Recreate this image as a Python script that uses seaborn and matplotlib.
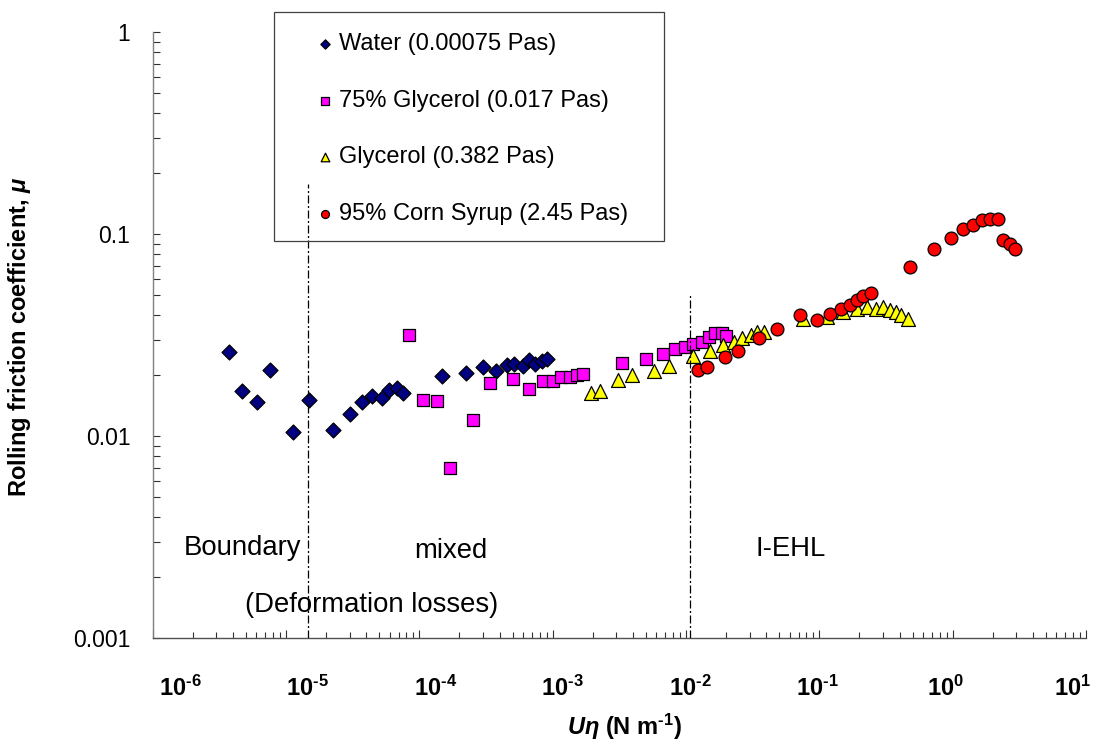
import numpy as np
import pandas as pd
import matplotlib
matplotlib.use("Agg")
import matplotlib.pyplot as plt
from matplotlib.patches import Rectangle
from matplotlib.ticker import FixedLocator, FixedFormatter, LogLocator, NullFormatter, NullLocator
import seaborn as sns

# ---- data: rolling friction coefficient vs. U*eta for four lubricants ----
water_x = [3.75e-6, 4.65e-6, 6.03e-6, 7.57e-6, 1.13e-5, 1.49e-5, 2.26e-5, 3.03e-5, 3.71e-5,
           4.43e-5, 5.21e-5, 5.90e-5, 6.75e-5, 7.57e-5, 1.48e-4, 2.24e-4, 2.99e-4, 3.77e-4,
           4.53e-4, 5.14e-4, 6.00e-4, 6.65e-4, 7.43e-4, 8.28e-4, 9.00e-4]
water_mu = [0.0261, 0.0168, 0.0148, 0.0212, 0.0105, 0.0151, 0.0107, 0.0129, 0.0148,
            0.0158, 0.0155, 0.0170, 0.0174, 0.0164, 0.0198, 0.0206, 0.0220, 0.0210,
            0.0225, 0.0229, 0.0222, 0.0238, 0.0227, 0.0236, 0.0241]

glyc75_x = [8.40e-5, 1.07e-4, 1.35e-4, 1.71e-4, 2.52e-4, 3.36e-4, 5.08e-4, 6.62e-4, 8.40e-4,
            1.01e-3, 1.16e-3, 1.34e-3, 1.51e-3, 1.69e-3, 3.31e-3, 5.01e-3, 6.71e-3, 8.26e-3,
            9.86e-3, 1.13e-2, 1.31e-2, 1.49e-2, 1.65e-2, 1.85e-2, 2.01e-2]
glyc75_mu = [0.0317, 0.0151, 0.0150, 0.0070, 0.0121, 0.0184, 0.0193, 0.0171, 0.0187,
             0.0187, 0.0196, 0.0196, 0.0200, 0.0203, 0.0230, 0.0241, 0.0255, 0.0269,
             0.0278, 0.0285, 0.0293, 0.0311, 0.0324, 0.0324, 0.0313]

glyc_x = [1.95e-3, 2.28e-3, 3.11e-3, 3.94e-3, 5.79e-3, 7.50e-3, 1.13e-2, 1.51e-2, 1.88e-2,
          2.28e-2, 2.62e-2, 3.05e-2, 3.42e-2, 3.82e-2, 7.59e-2, 0.1135, 0.150, 0.190,
          0.226, 0.264, 0.302, 0.337, 0.377, 0.412, 0.461]
glyc_mu = [0.0163, 0.0168, 0.0189, 0.0200, 0.0211, 0.0224, 0.0250, 0.0264, 0.0282,
           0.0294, 0.0308, 0.0316, 0.0327, 0.0330, 0.0382, 0.0389, 0.0412, 0.0428,
           0.0437, 0.0428, 0.0438, 0.0423, 0.0414, 0.0397, 0.0380]

corn_x = [1.22e-2, 1.44e-2, 1.95e-2, 2.45e-2, 3.52e-2, 4.84e-2, 7.16e-2, 9.55e-2, 0.120,
          0.145, 0.169, 0.191, 0.214, 0.243, 0.478, 0.723, 0.964, 1.19, 1.43, 1.67,
          1.90, 2.17, 2.39, 2.67, 2.91]
corn_mu = [0.0213, 0.0221, 0.0246, 0.0264, 0.0308, 0.0340, 0.0397, 0.0378, 0.0404,
           0.0425, 0.0448, 0.0473, 0.0497, 0.0514, 0.0689, 0.0849, 0.0955, 0.106, 0.1116,
           0.1177, 0.1195, 0.1195, 0.094, 0.0892, 0.0846]

series_labels = ["Water (0.00075 Pas)", "75% Glycerol (0.017 Pas)",
                 "Glycerol (0.382 Pas)", "95% Corn Syrup (2.45 Pas)"]
decade_labels = ["$10^{\u20106}$", "$10^{\u20105}$", "$10^{\u20104}$", "$10^{\u20103}$",
                 "$10^{\u20102}$", "$10^{\u20101}$", "$10^{0}$", "$10^{1}$"]
decade_values = [1e-6, 1e-5, 1e-4, 1e-3, 1e-2, 1e-1, 1e0, 1e1]
regime_bounds = [1e-5, 1e-2]
regime_tops = [0.1775, 0.0512]

sns.set_style("white")
plt.rcParams["font.family"] = ["Liberation Sans", "DejaVu Sans"]
plt.rcParams["mathtext.fontset"] = "custom"
plt.rcParams["mathtext.rm"] = "Liberation Sans:bold"
plt.rcParams["mathtext.bf"] = "Liberation Sans:bold"
plt.rcParams["mathtext.it"] = "Liberation Sans:bold:italic"
for key in ["text.color", "axes.labelcolor", "xtick.color", "ytick.color"]:
    plt.rcParams[key] = "black"

W, H = 1097, 749
fig = plt.figure(figsize=(W / 100, H / 100), dpi=100)
left, right, top, bottom = 152.7, 1086.0, 32.3, 638.3
ax = fig.add_axes([left / W, 1 - bottom / H, (right - left) / W, (bottom - top) / H])

frames = [
    (pd.DataFrame({"U_eta": water_x, "mu": water_mu}), "D", 58, "#000080"),
    (pd.DataFrame({"U_eta": glyc75_x, "mu": glyc75_mu}), "s", 80, "#FF00FF"),
    (pd.DataFrame({"U_eta": glyc_x, "mu": glyc_mu}), "^", 100, "#FFFF00"),
    (pd.DataFrame({"U_eta": corn_x, "mu": corn_mu}), "o", 85, "#FF0000"),
]
for (df, mk, size, col), lab in zip(frames, series_labels):
    sns.scatterplot(data=df, x="U_eta", y="mu", marker=mk, s=size, color=col,
                    edgecolor="black", linewidth=0.9, label=lab, ax=ax, zorder=3)

ax.set_xscale("log")
ax.set_yscale("log")
ax.set_xlim(1e-6, 1e1)
ax.set_ylim(1e-3, 1)

for side in ["top", "right"]:
    ax.spines[side].set_visible(False)
ax.spines["left"].set_color("#808080")
ax.spines["bottom"].set_color("#505050")
for side in ["left", "bottom"]:
    ax.spines[side].set_linewidth(1.0)

ax.xaxis.set_major_locator(LogLocator(base=10, numticks=20))
ax.xaxis.set_minor_locator(LogLocator(base=10, subs=np.arange(2, 10), numticks=20))
ax.yaxis.set_major_locator(FixedLocator([1e-3, 1e-2, 1e-1, 1]))
ax.yaxis.set_major_formatter(FixedFormatter(["0.001", "0.01", "0.1", "1"]))
ax.yaxis.set_minor_locator(LogLocator(base=10, subs=np.arange(2, 10), numticks=20))
ax.yaxis.set_minor_formatter(NullFormatter())
ax.tick_params(axis="x", which="both", direction="in", bottom=True, labelbottom=False,
               color="#303030", width=0.8)
ax.tick_params(axis="x", which="major", length=6)
ax.tick_params(axis="x", which="minor", length=4.5)
ax.tick_params(axis="y", which="both", direction="in", left=True, length=5,
               color="#303030", width=0.8, labelsize=16.5, pad=16)

ax.set_xlabel("$U\\eta$ (N m$^{\u20101}$)", fontsize=17, fontweight="bold")
ax.xaxis.set_label_coords(0.505, -0.122)
ax.set_ylabel(r"Rolling friction coefficient, $\mu$", fontsize=17, fontweight="bold")
ax.yaxis.set_label_coords(-0.128, 0.497)
if ax.get_legend():
    ax.get_legend().remove()

# decade labels and regime boundaries on their own log scale
ax2 = ax.twiny()
ax2.set_xscale("log")
ax2.set_xlim(10 ** -6.2157, 10 ** 1.104)
ax2.xaxis.set_ticks_position("bottom")
ax2.xaxis.set_major_locator(FixedLocator(decade_values))
ax2.xaxis.set_major_formatter(FixedFormatter(decade_labels))
ax2.xaxis.set_minor_locator(NullLocator())
ax2.tick_params(axis="x", which="both", length=0, labelsize=17, pad=27,
                top=False, labeltop=False, bottom=True, labelbottom=True)
for sp in ax2.spines.values():
    sp.set_visible(False)
for xb, yt in zip(regime_bounds, regime_tops):
    ax2.vlines(xb, 1e-3, yt, colors="black", linewidth=0.9,
               linestyles=[(0, (6.4, 2.0, 1.6, 2.0))], zorder=2)

txt_kw = dict(transform=ax.transAxes, fontsize=19.8, ha="center", va="center")
ax.text(0.0957, 0.149, "Boundary", **txt_kw)
ax.text(0.3196, 0.144, "mixed", **txt_kw)
ax.text(0.683, 0.147, "I-EHL", **txt_kw)
ax.text(0.235, 0.055, "(Deformation losses)", **txt_kw)

# legend with a separately drawn box
handles, labels = ax.get_legend_handles_labels()
fig.legend(handles, labels, loc="upper left", bbox_to_anchor=(315.6 / W, 1 - 33 / H),
           frameon=False, borderpad=0, borderaxespad=0, handlelength=0.8,
           handletextpad=0.2, labelspacing=1.47, fontsize=17, markerscale=0.62)
fig.patches.append(Rectangle((274 / W, 1 - 241 / H), 390 / W, 229 / H,
                             transform=fig.transFigure, fill=False,
                             edgecolor="#404040", linewidth=0.9, zorder=5))

fig.savefig("out.png", dpi=100)
